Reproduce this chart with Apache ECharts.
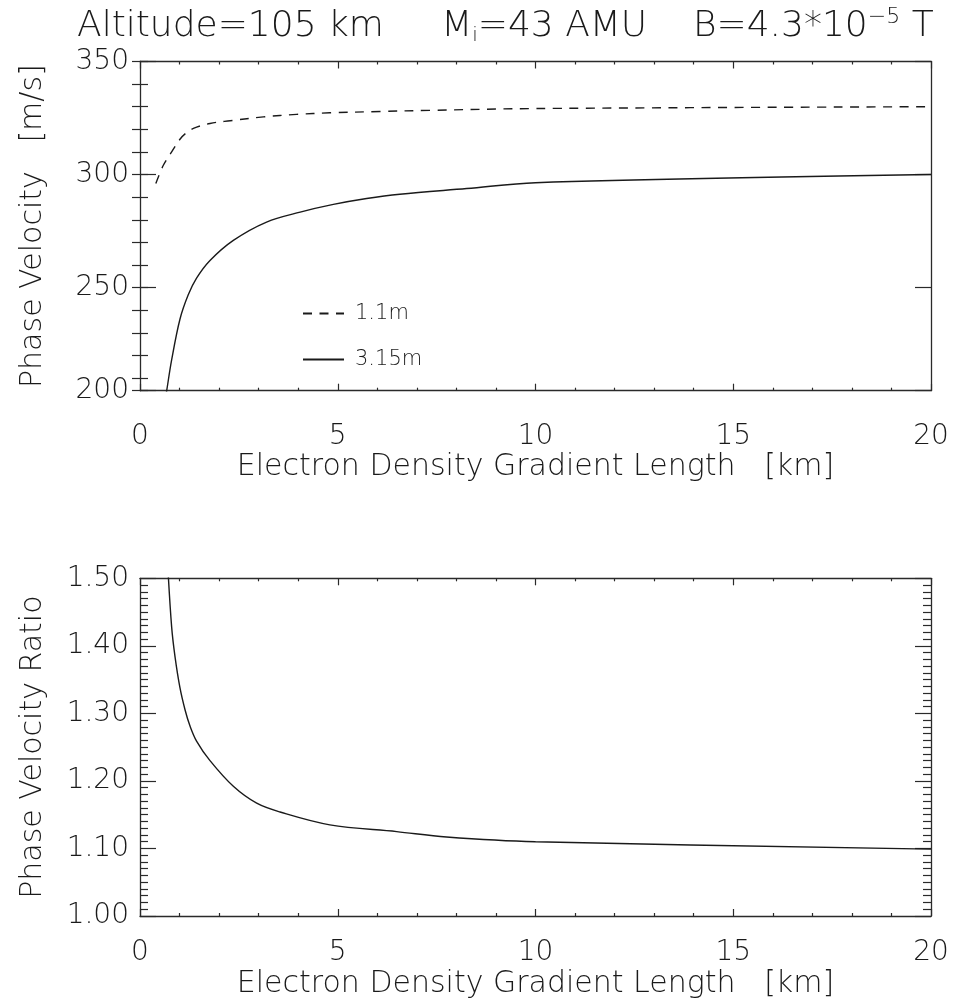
<!DOCTYPE html>
<html>
<head>
<meta charset="utf-8">
<script src="https://cdn.jsdelivr.net/npm/echarts@6/dist/echarts.min.js"></script>
<style>
html,body{margin:0;padding:0;background:#fff;}
#chart{width:974px;height:1008px;}
</style>
</head>
<body>
<div id="chart"></div>
<script>
// ---- data ----
// Top panel: phase velocity [m/s] vs electron density gradient length [km]
const x11m = [0.40, 0.59, 0.80, 1.01, 1.14, 1.35, 1.77, 2.28, 3.12, 3.96, 4.80, 6.07, 7.33, 10, 20];
const v11m = [296.0, 304.1, 310.0, 315.6, 318.0, 320.4, 322.6, 323.8, 325.5, 326.6, 327.3, 327.9, 328.4, 329.2, 330.0];

const x315m = [0.64, 0.675, 0.80, 1.01, 1.22, 1.43, 1.77, 2.36, 3.20, 4.05, 4.89, 5.73, 6.57, 8.26, 10, 20];
const v315m = [200.5, 204.4, 218.0, 236.0, 246.8, 254.2, 262.0, 270.9, 279.0, 283.4, 286.8, 289.4, 291.3, 293.8, 296.4, 300.0];

// Bottom panel: phase velocity ratio
const xRatio = [0.70, 0.80, 0.885, 1.01, 1.14, 1.26, 1.43, 1.77, 2.36, 2.95, 3.54, 4.80, 6.49, 7.75, 10, 20];
const vRatio = [1.52, 1.428, 1.384, 1.338, 1.305, 1.282, 1.259, 1.230, 1.192, 1.167, 1.154, 1.135, 1.125, 1.117, 1.110, 1.099];

const seriesNames = ['1.1m', '3.15m'];
const topYTickLabels = ['200', '250', '300', '350'];
const titleParts = ['Altitude=105 km     M', 'i', '=43 AMU    B=4.3*10', '\u22125', ' T'];
const xAxisTitle = 'Electron Density Gradient Length   [km]';
const yTopTitle = 'Phase Velocity   [m/s]';
const yBottomTitle = 'Phase Velocity Ratio';

// ---- styling ----
const FONT = 'DejaVu Sans';
const FW = 200;
const INK = '#1a1a1a';
const AX = '#2a2a2a';

const pair = (xs, ys) => xs.map((x, i) => [x, ys[i]]);

function xAx(gridIndex, pos, showLabels, margin, nameGap) {
  return {
    type: 'value', gridIndex, position: pos, min: 0, max: 20, interval: 5,
    axisLine: {show: true, onZero: false, lineStyle: {color: AX, width: 1.3}},
    axisTick: {show: true, inside: true, length: 7, lineStyle: {color: AX, width: 1.2}},
    minorTick: {show: true, splitNumber: 5, length: 3, lineStyle: {color: AX, width: 1.2}},
    splitLine: {show: false}, minorSplitLine: {show: false},
    axisLabel: {show: showLabels, margin: margin || 20, fontFamily: FONT, fontWeight: FW, fontSize: 28, color: INK},
    name: showLabels ? xAxisTitle : '', nameLocation: 'middle', nameGap: nameGap || 56,
    nameTextStyle: {fontFamily: FONT, fontWeight: FW, fontSize: 30, color: INK}
  };
}

const option = {
  backgroundColor: '#fff',
  animation: false,
  title: {
    text: '{a|' + titleParts[0] + '}{sub|' + titleParts[1] + '}{a|' + titleParts[2] + '}{sup|' + titleParts[3] + '}{a|' + titleParts[4] + '}',
    left: 72, top: 1,
    textStyle: {
      rich: {
        a: {fontFamily: FONT, fontWeight: FW, fontSize: 36, color: INK},
        sub: {fontFamily: FONT, fontWeight: FW, fontSize: 20, color: INK, padding: [19, 0, 0, 0]},
        sup: {fontFamily: FONT, fontWeight: FW, fontSize: 22, color: INK, padding: [0, 0, 19, 0]}
      }
    }
  },
  legend: {
    show: true, orient: 'vertical', left: 297, top: 298, itemWidth: 41, itemHeight: 14, itemGap: 25,
    data: seriesNames,
    itemStyle: {opacity: 0, color: 'transparent', borderWidth: 0},
    textStyle: {fontFamily: FONT, fontWeight: FW, fontSize: 21, color: INK, padding: [0, 0, 0, 6]}
  },
  grid: [
    {left: 140, top: 61.5, width: 791, height: 329.2},
    {left: 140, top: 578.3, width: 791, height: 337.7}
  ],
  xAxis: [
    xAx(0, 'bottom', true, 32, 62),
    xAx(0, 'top', false),
    xAx(1, 'bottom', true, 23, 53),
    xAx(1, 'top', false)
  ],
  yAxis: [
    { // top panel, left, major ticks + labels
      type: 'value', gridIndex: 0, position: 'left', min: 204.4, max: 350, minInterval: 50, maxInterval: 50,
      axisLine: {show: true, onZero: false, lineStyle: {color: AX, width: 1.3}},
      axisTick: {show: true, inside: true, length: 16, lineStyle: {color: AX, width: 1.2}},
      splitLine: {show: false},
      axisLabel: {show: true, showMinLabel: true, showMaxLabel: true, margin: 11,
        fontFamily: FONT, fontWeight: FW, fontSize: 28, color: INK,
        formatter: (v, i) => topYTickLabels[i]},
      name: yTopTitle, nameLocation: 'middle', nameGap: 92, nameRotate: 90,
      nameTextStyle: {fontFamily: FONT, fontWeight: FW, fontSize: 30, color: INK}
    },
    { // top panel, left, minor ticks
      type: 'value', gridIndex: 0, position: 'left', min: 204.4, max: 350, minInterval: 10, maxInterval: 10,
      axisLine: {show: false}, splitLine: {show: false}, axisLabel: {show: false},
      axisTick: {show: true, inside: true, length: 8, lineStyle: {color: AX, width: 1.2}}
    },
    { // top panel, right, major
      type: 'value', gridIndex: 0, position: 'right', min: 204.4, max: 350, minInterval: 50, maxInterval: 50,
      axisLine: {show: true, onZero: false, lineStyle: {color: AX, width: 1.3}},
      axisTick: {show: true, inside: true, length: 16, lineStyle: {color: AX, width: 1.2}},
      splitLine: {show: false}, axisLabel: {show: false}
    },
    { // top panel, right, minor
      type: 'value', gridIndex: 0, position: 'right', min: 204.4, max: 350, minInterval: 10, maxInterval: 10,
      axisLine: {show: false}, splitLine: {show: false}, axisLabel: {show: false},
      axisTick: {show: true, inside: true, length: 8, lineStyle: {color: AX, width: 1.2}}
    },
    { // bottom panel, left
      type: 'value', gridIndex: 1, position: 'left', min: 1.0, max: 1.5, interval: 0.1,
      axisLine: {show: true, onZero: false, lineStyle: {color: AX, width: 1.3}},
      axisTick: {show: true, inside: true, length: 16, lineStyle: {color: AX, width: 1.2}},
      minorTick: {show: true, splitNumber: 10, length: 8, lineStyle: {color: AX, width: 1.2}},
      splitLine: {show: false}, minorSplitLine: {show: false},
      axisLabel: {show: true, showMinLabel: true, showMaxLabel: true, margin: 11,
        fontFamily: FONT, fontWeight: FW, fontSize: 28, color: INK,
        formatter: v => v.toFixed(2)},
      name: yBottomTitle, nameLocation: 'middle', nameGap: 92, nameRotate: 90,
      nameTextStyle: {fontFamily: FONT, fontWeight: FW, fontSize: 30, color: INK}
    },
    { // bottom panel, right
      type: 'value', gridIndex: 1, position: 'right', min: 1.0, max: 1.5, interval: 0.1,
      axisLine: {show: true, onZero: false, lineStyle: {color: AX, width: 1.3}},
      axisTick: {show: true, inside: true, length: 16, lineStyle: {color: AX, width: 1.2}},
      minorTick: {show: true, splitNumber: 10, length: 8, lineStyle: {color: AX, width: 1.2}},
      splitLine: {show: false}, minorSplitLine: {show: false}, axisLabel: {show: false}
    }
  ],
  series: [
    {
      name: seriesNames[0], type: 'line', xAxisIndex: 0, yAxisIndex: 0,
      data: pair(x11m, v11m), symbol: 'none', smooth: 0.35, clip: true,
      lineStyle: {color: INK, width: 1.4, type: [9, 7.5]}, itemStyle: {color: INK}
    },
    {
      name: seriesNames[1], type: 'line', xAxisIndex: 0, yAxisIndex: 0,
      data: pair(x315m, v315m), symbol: 'none', smooth: 0.35, clip: true,
      lineStyle: {color: INK, width: 1.4, type: 'solid'}, itemStyle: {color: INK}
    },
    {
      name: 'ratio', type: 'line', xAxisIndex: 2, yAxisIndex: 4,
      data: pair(xRatio, vRatio), symbol: 'none', smooth: 0.35, clip: true,
      lineStyle: {color: INK, width: 1.4}, itemStyle: {color: INK}
    }
  ]
};

const chart = echarts.init(document.getElementById('chart'), null, {renderer: 'canvas'});
chart.setOption(option);
</script>
</body>
</html>
